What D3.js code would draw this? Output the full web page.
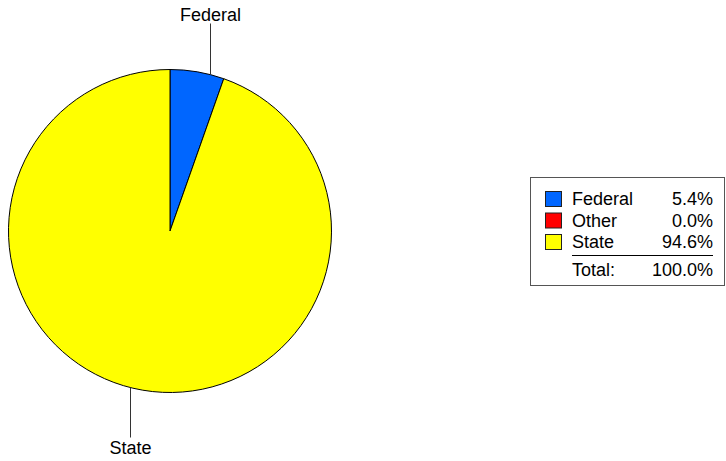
<!DOCTYPE html>
<html>
<head>
<meta charset="utf-8">
<script src="https://cdn.jsdelivr.net/npm/d3@7"></script>
<style>
  body { margin: 0; background: #fff; }
  text { font-family: "Liberation Sans", Arial, sans-serif; font-size: 18px; fill: #000; }
</style>
</head>
<body>
<div class="chart"></div>
<script>
const categories = ["Federal", "Other", "State"];
const shares = [5.4, 0.0, 94.6];
const colors = ["#0066ff", "#ff0000", "#ffff00"];
const totalLabel = "Total:";
const pieLabels = ["Federal", "State"];

const width = 726;
const height = 461;
const cx = 170;
const cy = 231;
const radius = 161.5;
// leader lines sit a little clockwise of the slice middle
const labelShift = 0.082;

const svg = d3
  .select(".chart")
  .append("svg")
  .attr("width", width)
  .attr("height", height);

const data = categories.map((c, i) => ({ name: c, value: shares[i], color: colors[i] }));

const pie = d3.pie().sort(null).value((d) => d.value);
const arcs = pie(data);
const arc = d3.arc().innerRadius(0).outerRadius(radius);

const g = svg.append("g").attr("transform", `translate(${cx},${cy})`);

g.selectAll("path.slice")
  .data(arcs.filter((d) => d.value > 0))
  .enter()
  .append("path")
  .attr("class", "slice")
  .attr("d", arc)
  .attr("fill", (d) => d.data.color)
  .attr("stroke", "#000")
  .attr("stroke-width", 1);

// labels with vertical leader lines
const labelled = arcs.filter((d) => pieLabels.includes(d.data.name));
labelled.forEach((d) => {
  const a = (d.startAngle + d.endAngle) / 2 + labelShift;
  const x = Math.round(radius * Math.sin(a)) + 0.5;
  const yEdge = -radius * Math.cos(a);
  const up = yEdge < 0;
  const yEnd = up ? -radius - 46 : radius + 45;
  g.append("line")
    .attr("x1", x)
    .attr("x2", x)
    .attr("y1", yEdge)
    .attr("y2", yEnd)
    .attr("stroke", "#333")
    .attr("stroke-width", 1);
  g.append("text")
    .attr("x", x)
    .attr("y", up ? yEnd - 3 : yEnd + 16)
    .attr("text-anchor", "middle")
    .text(d.data.name);
});

// legend
const lg = svg.append("g").attr("transform", "translate(530,177)");
lg.append("rect")
  .attr("x", 0.5)
  .attr("y", 0.5)
  .attr("width", 194)
  .attr("height", 108)
  .attr("fill", "#fff")
  .attr("stroke", "#555");

const rowY = d3.scalePoint().domain(categories).range([28, 71]);

const rows = lg
  .selectAll("g.row")
  .data(data)
  .enter()
  .append("g")
  .attr("class", "row")
  .attr("transform", (d) => `translate(0,${rowY(d.name)})`);

rows.append("rect")
  .attr("x", 15.5)
  .attr("y", -13.5)
  .attr("width", 16)
  .attr("height", 15)
  .attr("fill", (d) => d.color)
  .attr("stroke", "#222");

rows.append("text").attr("x", 42).text((d) => d.name);

rows.append("text")
  .attr("x", 183)
  .attr("text-anchor", "end")
  .text((d) => d.value.toFixed(1) + "%");

lg.append("line")
  .attr("x1", 42)
  .attr("x2", 183)
  .attr("y1", 78.5)
  .attr("y2", 78.5)
  .attr("stroke", "#000");

lg.append("text").attr("x", 42).attr("y", 98.5).text(totalLabel);
lg.append("text")
  .attr("x", 183)
  .attr("y", 98.5)
  .attr("text-anchor", "end")
  .text(d3.sum(shares).toFixed(1) + "%");
</script>
</body>
</html>
